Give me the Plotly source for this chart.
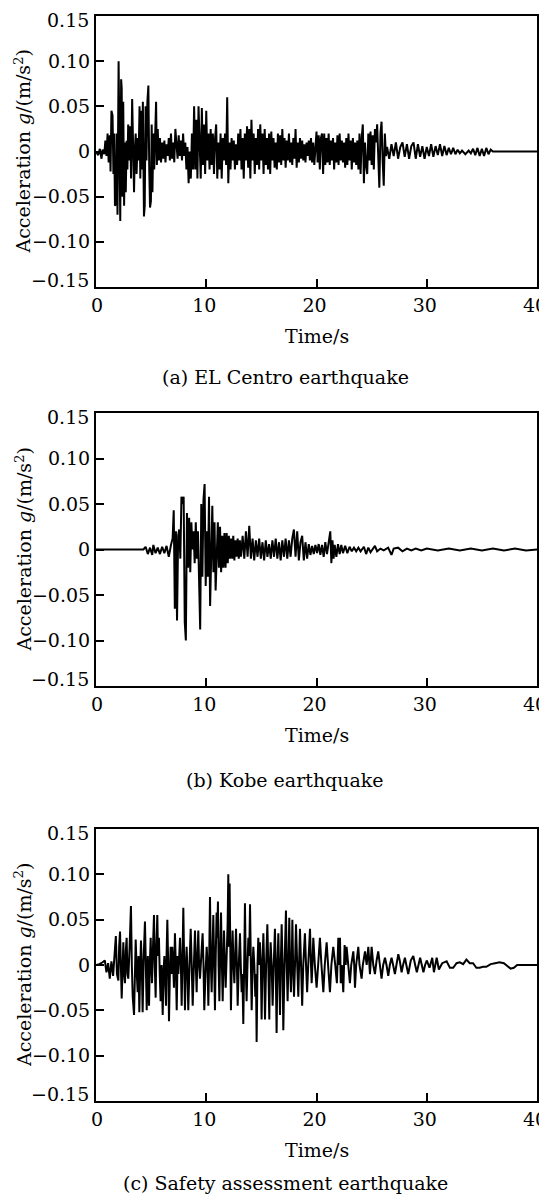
import plotly.graph_objects as go

# ---- data (time in s, acceleration in g) ----
el_centro_t = [
    0.0, 0.2, 0.35, 0.5, 0.6, 0.75, 0.85, 0.95, 1.05, 1.15, 1.25, 1.32, 1.4, 1.5, 1.58, 1.65, 1.72, 1.8, 1.88,
    1.95, 2.05, 2.12, 2.2, 2.28, 2.33, 2.4, 2.47, 2.55, 2.62, 2.7, 2.78, 2.85, 2.92, 3.0, 3.1, 3.18, 3.28, 3.36,
    3.45, 3.52, 3.6, 3.68, 3.78, 3.86, 3.95, 4.02, 4.1, 4.18, 4.25, 4.35, 4.42, 4.5, 4.58, 4.66, 4.75, 4.83, 4.9,
    4.98, 5.05, 5.12, 5.2, 5.28, 5.36, 5.45, 5.52, 5.6, 5.7, 5.8, 5.9, 6.0, 6.1, 6.2, 6.3, 6.4, 6.5, 6.6, 6.7,
    6.8, 6.9, 7.0, 7.1, 7.2, 7.3, 7.4, 7.5, 7.6, 7.7, 7.8, 7.9, 8.0, 8.1, 8.2, 8.3, 8.4, 8.5, 8.6, 8.7, 8.8, 8.9,
    9.0, 9.1, 9.2, 9.3, 9.4, 9.5, 9.6, 9.7, 9.8, 9.9, 10.0, 10.1, 10.2, 10.3, 10.4, 10.5, 10.6, 10.7, 10.8, 10.9,
    11.0, 11.1, 11.2, 11.3, 11.4, 11.5, 11.6, 11.7, 11.8, 11.9, 12.0, 12.1, 12.2, 12.3, 12.4, 12.5, 12.6, 12.7,
    12.8, 12.9, 13.0, 13.1, 13.2, 13.3, 13.4, 13.5, 13.6, 13.7, 13.8, 13.9, 14.0, 14.1, 14.2, 14.3, 14.4, 14.5,
    14.6, 14.7, 14.8, 14.9, 15.0, 15.1, 15.2, 15.3, 15.4, 15.5, 15.6, 15.7, 15.8, 15.9, 16.0, 16.1, 16.2, 16.3,
    16.4, 16.5, 16.6, 16.7, 16.8, 16.9, 17.0, 17.1, 17.2, 17.3, 17.4, 17.5, 17.6, 17.7, 17.8, 17.9, 18.0, 18.1,
    18.2, 18.3, 18.4, 18.5, 18.6, 18.7, 18.8, 18.9, 19.0, 19.1, 19.2, 19.3, 19.4, 19.5, 19.6, 19.7, 19.8, 19.9,
    20.0, 20.1, 20.2, 20.3, 20.4, 20.5, 20.6, 20.7, 20.8, 20.9, 21.0, 21.1, 21.2, 21.3, 21.4, 21.5, 21.6, 21.7,
    21.8, 21.9, 22.0, 22.1, 22.2, 22.3, 22.4, 22.5, 22.6, 22.7, 22.8, 22.9, 23.0, 23.1, 23.2, 23.3, 23.4, 23.5,
    23.6, 23.7, 23.8, 23.9, 24.0, 24.1, 24.2, 24.3, 24.4, 24.5, 24.6, 24.7, 24.8, 24.9, 25.0, 25.1, 25.2, 25.3,
    25.4, 25.5, 25.6, 25.7, 25.8, 25.9, 26.0, 26.1, 26.2, 26.3, 26.4, 26.6, 26.8, 27.0, 27.2, 27.4, 27.6, 27.8,
    28.0, 28.2, 28.4, 28.6, 28.8, 29.0, 29.2, 29.4, 29.6, 29.8, 30.0, 30.2, 30.4, 30.6, 30.8, 31.0, 31.2, 31.4,
    31.6, 31.8, 32.0, 32.2, 32.4, 32.6, 32.8, 33.0, 33.2, 33.5, 33.8, 34.0, 34.2, 34.4, 34.6, 34.8, 35.0, 35.2,
    35.4, 35.6, 35.8, 36.0, 40.0,
]
el_centro_a = [
    0.0, -0.004, 0.003, -0.008, 0.002, -0.003, 0.012, -0.005, 0.02, -0.012, 0.018, -0.022, 0.045, 0.04, -0.025,
    0.02, -0.06, -0.058, 0.02, -0.07, 0.10, 0.03, -0.077, 0.08, 0.07, -0.05, 0.055, -0.06, 0.01, -0.045, 0.012,
    -0.02, 0.03, -0.01, 0.028, -0.03, 0.058, 0.01, -0.045, 0.0, 0.02, -0.025, 0.015, -0.01, 0.05, -0.03, 0.045,
    -0.02, 0.055, -0.072, -0.06, 0.05, -0.01, 0.055, 0.073, -0.02, -0.062, -0.055, 0.03, -0.045, 0.02, -0.02,
    0.025, 0.055, -0.015, 0.025, -0.01, 0.015, -0.012, 0.01, -0.008, 0.012, -0.012, 0.008, -0.005, 0.015, -0.01,
    0.02, -0.008, 0.01, -0.012, 0.025, 0.008, -0.008, 0.018, -0.005, 0.012, -0.01, 0.02, -0.005, 0.01, -0.02,
    0.005, -0.035, 0.0, -0.03, 0.02, -0.02, 0.05, -0.02, 0.035, -0.03, 0.05, 0.01, -0.03, 0.048, -0.015, 0.03,
    -0.025, 0.045, -0.01, 0.02, -0.02, 0.025, -0.015, 0.02, -0.025, 0.015, 0.03, -0.03, 0.01, -0.02, 0.02, -0.03,
    0.015, -0.01, 0.02, -0.015, 0.06, -0.035, 0.01, -0.02, 0.015, -0.01, 0.012, -0.02, 0.008, -0.015, 0.02,
    -0.01, 0.025, -0.02, 0.015, -0.03, 0.02, -0.01, 0.028, -0.018, 0.025, -0.03, 0.035, -0.01, 0.02, -0.025,
    0.015, -0.015, 0.025, -0.02, 0.03, -0.01, 0.02, -0.025, 0.025, -0.015, 0.015, -0.02, 0.02, -0.025, 0.022,
    -0.01, 0.015, -0.018, 0.01, -0.02, 0.02, -0.012, 0.018, -0.015, 0.025, -0.01, 0.015, -0.018, 0.012, -0.01,
    0.02, -0.012, 0.01, -0.015, 0.015, -0.008, 0.025, -0.018, 0.01, -0.012, 0.015, -0.008, 0.012, -0.01, 0.008,
    -0.012, 0.01, -0.005, 0.012, -0.01, 0.015, -0.012, 0.01, -0.015, 0.01, 0.022, -0.012, 0.018, -0.02, 0.015,
    0.02, -0.025, 0.02, -0.015, 0.015, -0.012, 0.02, -0.015, 0.012, -0.01, 0.015, -0.02, 0.01, -0.012, 0.018,
    -0.015, 0.02, -0.01, 0.012, -0.012, 0.01, -0.018, 0.015, -0.015, 0.02, -0.01, 0.012, -0.02, 0.015, -0.012,
    0.01, -0.015, 0.012, -0.02, 0.02, -0.025, 0.015, 0.03, -0.035, 0.01, -0.015, -0.025, 0.02, -0.01, 0.022,
    -0.015, 0.018, -0.02, 0.025, 0.01, 0.03, -0.02, -0.04, 0.02, 0.033, -0.01, -0.038, 0.02, -0.005, 0.005,
    -0.008, 0.008, -0.005, 0.01, -0.008, 0.005, 0.01, -0.006, 0.008, -0.008, 0.006, 0.01, -0.008, 0.008, -0.006,
    0.006, -0.008, 0.005, -0.005, 0.008, -0.006, 0.006, -0.004, 0.008, -0.005, 0.006, -0.004, 0.004, -0.003,
    0.004, -0.003, 0.002, -0.002, 0.001, -0.003, 0.001, -0.002, 0.003, -0.004, 0.004, -0.005, 0.003, -0.005,
    0.004, -0.003, 0.002, 0.0, 0.0,
]

kobe_t = [
    0.0, 4.3, 4.5, 4.7, 4.9, 5.1, 5.2, 5.4, 5.6, 5.8, 6.0, 6.2, 6.4, 6.6, 6.8, 6.95, 7.05, 7.15, 7.25, 7.35,
    7.45, 7.55, 7.65, 7.75, 7.85, 7.95, 8.05, 8.15, 8.25, 8.35, 8.45, 8.55, 8.65, 8.75, 8.85, 8.95, 9.05, 9.15,
    9.25, 9.35, 9.45, 9.55, 9.65, 9.75, 9.85, 9.95, 10.05, 10.15, 10.25, 10.35, 10.45, 10.55, 10.65, 10.75,
    10.85, 10.95, 11.05, 11.15, 11.25, 11.35, 11.45, 11.55, 11.65, 11.75, 11.85, 11.95, 12.05, 12.15, 12.25,
    12.35, 12.45, 12.55, 12.65, 12.75, 12.85, 12.95, 13.05, 13.15, 13.3, 13.45, 13.6, 13.75, 13.9, 14.05, 14.2,
    14.35, 14.5, 14.65, 14.8, 14.95, 15.1, 15.25, 15.4, 15.55, 15.7, 15.85, 16.0, 16.15, 16.3, 16.45, 16.6,
    16.75, 16.9, 17.05, 17.2, 17.35, 17.5, 17.65, 17.8, 17.95, 18.1, 18.25, 18.4, 18.55, 18.7, 18.85, 19.0,
    19.15, 19.3, 19.45, 19.6, 19.75, 19.9, 20.05, 20.2, 20.35, 20.5, 20.65, 20.8, 20.95, 21.1, 21.25, 21.35,
    21.45, 21.55, 21.65, 21.8, 21.95, 22.1, 22.25, 22.4, 22.6, 22.8, 23.0, 23.2, 23.4, 23.6, 23.8, 24.0, 24.3,
    24.5, 24.7, 24.9, 25.1, 25.3, 25.5, 25.8, 26.1, 26.5, 26.8, 27.0, 27.4, 27.8, 28.2, 28.6, 29.0, 29.5, 30.0,
    31.0, 32.0, 33.0, 34.0, 35.0, 36.0, 37.0, 38.0, 39.0, 40.0,
]
kobe_a = [
    0.0, 0.0, 0.003, -0.005, 0.002, -0.006, 0.005, -0.004, 0.002, -0.005, 0.003, -0.004, 0.004, -0.008, 0.005,
    0.012, 0.043, -0.065, 0.02, -0.078, 0.015, 0.022, -0.01, 0.058, 0.05, 0.058, -0.08, -0.1, 0.04, -0.02, 0.035,
    -0.025, 0.03, 0.0, 0.02, -0.015, 0.03, -0.01, 0.02, -0.04, -0.088, 0.05, -0.03, 0.055, 0.072, -0.04, 0.02,
    -0.03, 0.058, -0.062, 0.0, 0.048, -0.025, 0.03, -0.045, 0.0, 0.03, -0.02, 0.025, -0.025, 0.015, -0.02, 0.018,
    -0.02, 0.018, -0.015, 0.015, -0.01, 0.012, -0.01, 0.015, -0.012, 0.01, -0.008, 0.012, -0.01, 0.01, -0.008,
    0.015, -0.01, 0.02, -0.008, 0.026, -0.01, 0.012, -0.012, 0.01, -0.008, 0.012, -0.01, 0.008, -0.012, 0.01,
    -0.008, 0.006, -0.01, 0.01, -0.008, 0.012, -0.01, 0.008, -0.012, 0.01, -0.008, 0.012, -0.01, 0.01, -0.008,
    0.012, 0.022, -0.008, 0.02, -0.012, 0.008, 0.015, -0.012, 0.008, -0.01, 0.006, -0.006, 0.004, -0.005, 0.005,
    -0.004, 0.006, -0.006, 0.005, -0.008, 0.008, -0.005, 0.01, 0.02, -0.015, 0.01, -0.01, 0.005, -0.008, 0.006,
    -0.005, 0.005, -0.004, 0.004, -0.004, 0.003, -0.002, 0.002, -0.002, 0.002, -0.002, 0.003, -0.005, 0.002,
    -0.003, 0.001, 0.004, -0.002, 0.001, -0.001, 0.002, -0.006, 0.001, 0.002, -0.002, 0.001, -0.001, 0.001,
    -0.001, 0.001, -0.001, 0.001, -0.001, 0.001, -0.001, 0.001, -0.001, 0.001, -0.001, 0.0,
]

safety_t = [
    0.0, 0.3, 0.6, 0.8, 0.95, 1.1, 1.25, 1.4, 1.55, 1.7, 1.8, 1.9, 2.03, 2.1, 2.18, 2.33, 2.4, 2.48, 2.55, 2.63,
    2.7, 2.78, 2.85, 2.93, 3.05, 3.17, 3.25, 3.33, 3.45, 3.52, 3.6, 3.7, 3.78, 3.85, 3.93, 4.0, 4.08, 4.15, 4.23,
    4.33, 4.44, 4.52, 4.6, 4.7, 4.81, 4.88, 4.96, 5.02, 5.08, 5.17, 5.26, 5.33, 5.41, 5.48, 5.56, 5.63, 5.71,
    5.78, 5.86, 5.95, 6.05, 6.12, 6.2, 6.28, 6.35, 6.4, 6.47, 6.55, 6.62, 6.7, 6.77, 6.85, 6.92, 7.0, 7.07, 7.12,
    7.16, 7.24, 7.32, 7.4, 7.47, 7.55, 7.62, 7.7, 7.77, 7.85, 7.92, 8.0, 8.07, 8.15, 8.22, 8.3, 8.37, 8.48, 8.59,
    8.68, 8.77, 8.88, 8.98, 9.05, 9.13, 9.2, 9.28, 9.35, 9.43, 9.55, 9.67, 9.75, 9.82, 9.93, 10.04, 10.12, 10.19,
    10.27, 10.34, 10.42, 10.49, 10.56, 10.64, 10.72, 10.79, 10.86, 10.94, 11.0, 11.06, 11.12, 11.19, 11.26,
    11.34, 11.42, 11.49, 11.55, 11.61, 11.69, 11.76, 11.85, 11.94, 12.0, 12.06, 12.12, 12.18, 12.24, 12.31,
    12.39, 12.47, 12.55, 12.62, 12.7, 12.78, 12.85, 12.95, 13.06, 13.13, 13.21, 13.28, 13.36, 13.44, 13.51,
    13.58, 13.66, 13.74, 13.82, 13.9, 13.97, 14.05, 14.12, 14.2, 14.27, 14.36, 14.45, 14.51, 14.57, 14.65,
    14.72, 14.8, 14.87, 14.95, 15.02, 15.1, 15.18, 15.25, 15.33, 15.43, 15.54, 15.63, 15.72, 15.78, 15.84,
    15.93, 16.02, 16.12, 16.23, 16.3, 16.38, 16.46, 16.54, 16.6, 16.69, 16.76, 16.84, 16.92, 16.99, 17.1, 17.23,
    17.3, 17.38, 17.45, 17.53, 17.6, 17.68, 17.75, 17.81, 17.88, 17.96, 18.05, 18.14, 18.25, 18.35, 18.42, 18.5,
    18.6, 18.7, 18.8, 18.95, 19.05, 19.15, 19.25, 19.41, 19.5, 19.56, 19.63, 19.71, 19.85, 20.01, 20.15, 20.31,
    20.45, 20.62, 20.75, 20.92, 21.05, 21.22, 21.35, 21.52, 21.7, 21.85, 21.98, 22.05, 22.13, 22.2, 22.3, 22.43,
    22.55, 22.65, 22.73, 22.85, 23.03, 23.15, 23.34, 23.42, 23.49, 23.6, 23.79, 23.9, 24.09, 24.2, 24.4, 24.55,
    24.7, 24.85, 25.0, 25.15, 25.3, 25.45, 25.6, 25.75, 25.9, 26.05, 26.21, 26.35, 26.51, 26.65, 26.81, 26.95,
    27.11, 27.25, 27.42, 27.55, 27.72, 27.85, 28.02, 28.15, 28.32, 28.55, 28.78, 28.95, 29.1, 29.25, 29.4, 29.55,
    29.7, 29.85, 30.0, 30.25, 30.5, 30.65, 30.8, 30.9, 31.1, 31.4, 31.8, 32.1, 32.4, 32.7, 33.0, 33.3, 33.6,
    33.9, 34.2, 34.5, 34.8, 35.1, 35.4, 35.8, 36.2, 36.6, 37.0, 37.3, 37.6, 37.9, 38.2, 40.0,
]
safety_a = [
    0.0, 0.001, 0.003, 0.005, -0.008, 0.002, -0.015, 0.004, -0.012, 0.01, 0.032, -0.01, -0.017, 0.02, 0.037,
    -0.037, 0.0, 0.025, -0.01, -0.02, 0.015, 0.03, -0.01, -0.015, 0.02, 0.065, 0.0, -0.035, -0.055, 0.0, 0.028,
    -0.01, -0.03, 0.01, -0.052, -0.01, 0.027, 0.0, -0.052, 0.01, 0.048, 0.0, -0.05, 0.01, -0.045, 0.0, 0.03, 0.0,
    -0.02, 0.02, 0.055, 0.0, -0.036, 0.02, 0.055, 0.01, 0.03, -0.01, -0.04, 0.0, -0.055, -0.01, 0.01, -0.02,
    -0.045, 0.01, 0.05, 0.0, -0.062, -0.01, 0.02, -0.01, 0.02, 0.0, -0.025, 0.01, 0.035, 0.0, -0.05, 0.01,
    -0.01, 0.01, 0.03, 0.0, -0.045, 0.01, 0.063, 0.0, -0.05, 0.0, 0.02, -0.01, -0.05, 0.0, 0.04, 0.0, -0.045,
    0.0, 0.038, 0.0, -0.03, 0.01, 0.038, 0.0, -0.015, 0.01, 0.035, 0.0, -0.05, -0.01, 0.02, 0.0, -0.045, 0.01,
    0.075, 0.0, -0.03, 0.01, 0.055, 0.0, -0.05, 0.01, 0.058, 0.03, 0.07, 0.0, -0.04, 0.01, 0.058, 0.0, -0.04,
    0.0, 0.038, 0.0, -0.025, 0.01, 0.045, 0.1, 0.02, 0.09, 0.0, -0.05, 0.0, 0.038, 0.0, -0.02, 0.01, 0.04, 0.0,
    -0.045, 0.0, 0.035, 0.0, -0.03, -0.01, -0.065, 0.0, 0.068, 0.0, -0.04, 0.0, 0.03, 0.01, 0.067, 0.0, -0.05,
    0.0, 0.02, 0.0, -0.035, -0.01, -0.085, 0.0, 0.03, 0.0, 0.025, 0.0, -0.06, 0.0, 0.035, 0.0, -0.06, 0.0,
    0.045, 0.0, -0.06, 0.0, 0.025, 0.0, -0.045, 0.0, 0.04, 0.0, -0.075, 0.0, 0.035, 0.0, -0.055, 0.0, 0.045,
    0.0, -0.072, 0.0, 0.06, 0.0, -0.04, 0.0, 0.052, 0.0, -0.03, 0.0, 0.05, 0.0, -0.035, 0.0, 0.045, 0.0, -0.035,
    0.0, 0.04, 0.0, -0.045, 0.0, 0.035, 0.0, -0.03, 0.0, 0.04, 0.0, -0.02, 0.0, 0.03, 0.0, -0.025, 0.0, 0.03,
    0.0, -0.03, 0.0, 0.025, 0.0, -0.03, 0.0, 0.02, 0.0, -0.02, 0.03, 0.0, 0.03, -0.02, 0.0, -0.03, 0.022, 0.0,
    0.02, 0.0, -0.02, 0.0, 0.015, 0.0, -0.025, 0.0, 0.02, 0.0, -0.015, 0.0, 0.015, 0.0, 0.02, -0.01, 0.02, 0.0,
    -0.01, 0.005, 0.015, 0.0, -0.015, 0.0, 0.008, 0.0, -0.012, 0.0, 0.008, 0.0, -0.01, 0.0, 0.012, 0.005,
    -0.008, 0.0, 0.008, 0.0, -0.01, 0.005, 0.01, 0.0, -0.008, 0.0, 0.008, 0.0, -0.008, 0.0, 0.005, -0.003,
    0.008, -0.008, 0.0, 0.008, -0.005, 0.002, 0.004, -0.003, -0.003, 0.002, 0.003, 0.001, 0.006, 0.002, 0.002,
    -0.003, -0.003, -0.002, -0.002, 0.001, 0.002, 0.003, 0.002, -0.001, -0.004, -0.003, 0.0, 0.0,
]

y_tick_vals = [-0.15, -0.10, -0.05, 0, 0.05, 0.10, 0.15]
# the two edge labels are drawn separately, nudged inside the frame like the original
y_tick_text = ['', '\u22120.10', '\u22120.05', '0', '0.05', '0.10', '']
y_edge_labels = [(0.15, '0.15', -4), (-0.15, '\u22120.15', 7)]
x_tick_vals = [0, 10, 20, 30, 40]
# the first label is padded with a no-break space so it sits a little inside the frame like the original
x_tick_text = ['\u00a00', '10', '20', '30', '40']
captions = ['(a) EL Centro earthquake', '(b) Kobe earthquake', '(c) Safety assessment earthquake']

PAGE_OFFSET = 8  # the page body margin pushes the figure 8px right/down
W, H = 547 - PAGE_OFFSET, 1203 - 2 * PAGE_OFFSET  # figure fits the window without scrollbars
FONT = 'DejaVu Serif'
FS = 19

# panel frame positions in screen pixels (top, bottom), plot left/right
panels = [(16, 287), (413, 686), (829, 1101)]
caption_y = [377, 780, 1183]
left_px, right_px = 96, 537


def px_x(px):
    """screen column -> paper fraction"""
    return (px - PAGE_OFFSET) / W


def px_y(px):
    """screen row -> paper fraction"""
    return 1 - (px - PAGE_OFFSET) / H


fig = go.Figure()
series = [(el_centro_t, el_centro_a), (kobe_t, kobe_a), (safety_t, safety_a)]
annotations = []
text_font = dict(family=FONT, size=FS, color='black')

for i, ((t, a), (top, bottom)) in enumerate(zip(series, panels)):
    n = '' if i == 0 else str(i + 1)
    fig.add_trace(go.Scatter(
        x=t, y=a, mode='lines', line=dict(color='black', width=2),
        xaxis='x' + n, yaxis='y' + n, showlegend=False, hoverinfo='skip',
    ))
    axis_style = dict(
        showline=True, linecolor='black', linewidth=2, mirror=True, ticks='inside', ticklen=8, tickwidth=2,
        tickcolor='black', showgrid=False, zeroline=False, automargin=False, ticklabeloverflow='allow',
        tickfont=text_font,
    )
    fig.update_layout(**{
        'xaxis' + n: dict(
            domain=[px_x(left_px), px_x(right_px)], range=[0, 40], tickvals=x_tick_vals, ticktext=x_tick_text,
            ticklabelshift=-2, anchor='y' + n, **axis_style
        ),
        'yaxis' + n: dict(
            domain=[px_y(bottom), px_y(top)], range=[-0.15, 0.15], tickvals=y_tick_vals, ticktext=y_tick_text,
            anchor='x' + n, **axis_style
        ),
    })
    for val, label, shift in y_edge_labels:
        annotations.append(dict(
            text=label, x=px_x(91), y=val, xref='paper', yref='y' + n, yshift=shift,
            showarrow=False, xanchor='right', yanchor='middle', font=text_font,
        ))
    mid = (top + bottom) / 2
    annotations.append(dict(
        text='Acceleration <i>g</i>/(m/s<sup>2</sup>)', textangle=-90, x=px_x(23), y=px_y(mid),
        xref='paper', yref='paper', showarrow=False, xanchor='center', yanchor='middle', font=text_font,
    ))
    annotations.append(dict(
        text='Time/s', x=px_x((left_px + right_px) / 2), y=px_y(bottom + 49), xref='paper', yref='paper',
        showarrow=False, xanchor='center', yanchor='middle', font=text_font,
    ))
    annotations.append(dict(
        text=captions[i], x=px_x(285), y=px_y(caption_y[i]), xref='paper', yref='paper',
        showarrow=False, xanchor='center', yanchor='middle', font=text_font,
    ))

fig.update_layout(
    width=W, height=H, margin=dict(l=0, r=0, t=0, b=0),
    paper_bgcolor='white', plot_bgcolor='white', annotations=annotations,
)

fig.write_html("out.html")
